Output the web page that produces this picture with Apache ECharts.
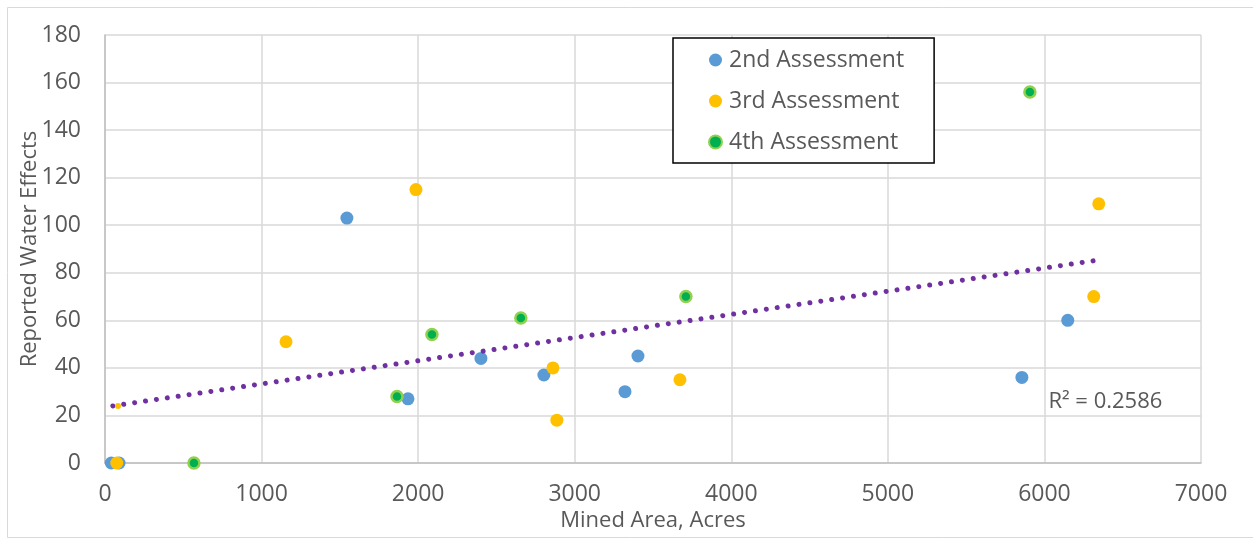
<!DOCTYPE html>
<html>
<head>
<meta charset="utf-8">
<script src="https://cdn.jsdelivr.net/npm/echarts@6/dist/echarts.min.js"></script>
<style>
html,body{margin:0;padding:0;background:#fff;}
#chart{width:1253px;height:539px;}
</style>
</head>
<body>
<div id="chart"></div>
<script>
// Data
const xTicks = [0, 1000, 2000, 3000, 4000, 5000, 6000, 7000];
const yTicks = [0, 20, 40, 60, 80, 100, 120, 140, 160, 180];

const assess2X = [40, 90, 1545, 1935, 2401, 2803, 3321, 3404, 5856, 6149];
const assess2Y = [0, 0, 103, 27, 44, 37, 30, 45, 36, 60];

const assess3X = [75, 1156, 1986, 2861, 2886, 3672, 6315, 6347];
const assess3Y = [0, 51, 115, 40, 18, 35, 70, 109];

const assess3SmallX = [83];
const assess3SmallY = [24];

const assess4X = [568, 1865, 2088, 2656, 3710, 5907];
const assess4Y = [0, 28, 54, 61, 70, 156];

const trendX = [50, 6340];
const trendY = [24, 85.3];
const r2Label = 'R² = 0.2586';

const zip = (xs, ys) => xs.map((x, i) => [x, ys[i]]);

const FONT = '"Open Sans", "Liberation Sans", sans-serif';
const TXT = '#595959';
const FS = 23;

const chart = echarts.init(document.getElementById('chart'), null, {renderer: 'canvas'});
const border = {
  type: 'rect',
  shape: {x: 7.5, y: 7.5, width: 1250, height: 530},
  style: {fill: 'none', stroke: '#d9d9d9', lineWidth: 1},
  z: -1
};
chart.setOption({
  animation: false,
  backgroundColor: '#fff',
  textStyle: {fontFamily: FONT},
  grid: {left: 105, right: 52, top: 35, bottom: 76, containLabel: false},
  graphic: [border],
  legend: {
    orient: 'vertical',
    left: 673, top: 38,
    padding: [9, 30, 8, 35],
    itemGap: 15,
    itemWidth: 13, itemHeight: 13,
    borderColor: '#000', borderWidth: 1.5,
    backgroundColor: '#fff',
    textStyle: {fontFamily: FONT, fontSize: FS, color: TXT, lineHeight: 26, padding: [0, 0, 0, 2]},
    data: ['2nd Assessment', '3rd Assessment', '4th Assessment']
  },
  xAxis: {
    type: 'value', min: 0, max: 7000, interval: 1000,
    name: 'Mined Area, Acres', nameLocation: 'middle', nameGap: 47,
    nameMoveOverlap: false,
    nameTextStyle: {fontFamily: FONT, fontSize: 22, color: TXT},
    axisLine: {show: true, lineStyle: {color: '#bfbfbf', width: 1.5}},
    axisTick: {show: false},
    axisLabel: {fontFamily: FONT, fontSize: FS, color: TXT, margin: 20,
      formatter: v => String(v)},
    splitLine: {show: true, lineStyle: {color: '#d9d9d9', width: 1.5}}
  },
  yAxis: {
    type: 'value', min: 0, max: 180, interval: 20,
    name: 'Reported Water Effects', nameLocation: 'middle', nameGap: 64,
    nameMoveOverlap: false,
    nameTextStyle: {fontFamily: FONT, fontSize: 22, color: TXT},
    axisLine: {show: true, lineStyle: {color: '#bfbfbf', width: 1.5}},
    axisTick: {show: false},
    axisLabel: {fontFamily: FONT, fontSize: FS, color: TXT, margin: 24,
      formatter: v => String(v)},
    splitLine: {show: true, lineStyle: {color: '#d9d9d9', width: 1.5}}
  },
  series: [
    {
      name: '2nd Assessment', type: 'scatter', symbol: 'circle', symbolSize: 13,
      itemStyle: {color: '#5B9BD5', opacity: 1},
      data: zip(assess2X, assess2Y), z: 3
    },
    {
      name: '3rd Assessment', type: 'scatter', symbol: 'circle', symbolSize: 13,
      itemStyle: {color: '#FFC000', opacity: 1},
      data: zip(assess3X, assess3Y), z: 4
    },
    {
      name: '3rd Assessment', type: 'scatter', symbol: 'circle', symbolSize: 6,
      itemStyle: {color: '#FFC000', opacity: 1},
      data: zip(assess3SmallX, assess3SmallY), z: 6
    },
    {
      name: '4th Assessment', type: 'scatter', symbol: 'circle', symbolSize: 11,
      itemStyle: {color: '#00B050', borderColor: '#92D050', borderWidth: 2.5, opacity: 1},
      data: zip(assess4X, assess4Y), z: 4
    },
    {
      name: 'trend', type: 'line', showSymbol: false, symbol: 'none',
      lineStyle: {color: '#7030A0', width: 5, type: [0.01, 11], cap: 'round'},
      data: zip(trendX, trendY), z: 5,
      silent: true
    }
  ]
});

// R² label placed via axis coordinates
const pos = chart.convertToPixel({gridIndex: 0}, [6000, 26]);
chart.setOption({
  graphic: [border, {
    type: 'text', x: pos[0] + 4, y: pos[1] + 1,
    style: {text: r2Label, font: FS - 1 + 'px ' + FONT, fill: TXT, textVerticalAlign: 'middle'},
    z: 10
  }]
});
</script>
</body>
</html>
